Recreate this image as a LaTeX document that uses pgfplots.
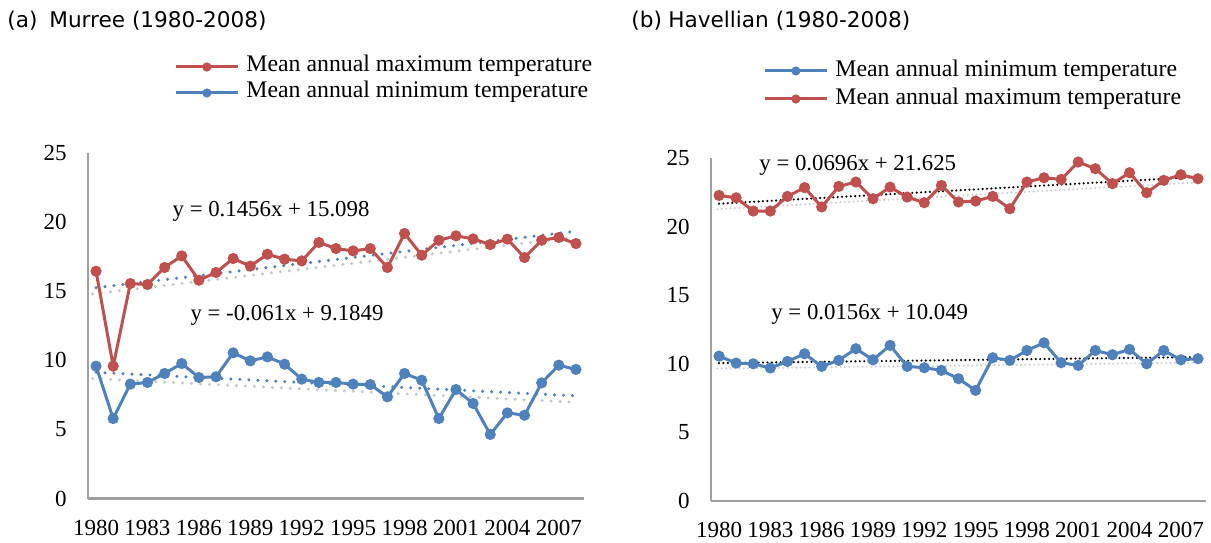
\documentclass[border=0pt]{standalone}
\usepackage{fontspec}
\setmainfont{Liberation Serif}
\newfontfamily\titlefont{DejaVu Sans}
\usepackage{pgfplots}
\pgfplotsset{compat=1.18}
\definecolor{cred}{RGB}{192,80,77}
\definecolor{cblue}{RGB}{79,129,189}
\definecolor{caxis}{RGB}{160,160,160}
\definecolor{cshadow}{RGB}{200,200,200}
\definecolor{cshadowb}{RGB}{205,210,218}

\pgfplotsset{
 tempaxis/.style={
  scale only axis, xmin=1979.53, xmax=2008.47, ymin=0, ymax=25,
  axis x line*=bottom, axis y line*=left,
  axis line style={caxis, line width=1.1pt, -},
  xtick={1980,1983,...,2007}, ytick={0,5,...,25},
  major tick length=0pt,
  /pgf/number format/1000 sep={},
  /pgf/number format/assume math mode=true,
  tick label style={font=\fontsize{11.5}{13}\selectfont, inner sep=0pt},
  xticklabel style={anchor=center, yshift=-14.5pt},
  yticklabel style={anchor=east, xshift=-10.5pt},
  clip=false,
  legend image code/.code={\draw[mark repeat=2, mark phase=2, mark size=1.5pt, #1] plot coordinates {(0pt,0pt) (15.5pt,0pt) (31pt,0pt)}; \path (34.5pt,0pt);},
  legend cell align=left,
 },
 dataline/.style={line width=1.5pt, mark=*, mark size=2pt, mark options={solid}},
 ltrend/.style={forget plot, line width=1.7pt, line cap=round, dash pattern=on 0pt off 4.5pt},
 rtrend/.style={forget plot, line width=1.2pt, line cap=round, dash pattern=on 0pt off 2.2pt},
}

\begin{document}
\begin{tikzpicture}
\path[use as bounding box] (0,0) rectangle (605.5pt,271pt);

\node[anchor=west, inner sep=0pt, font=\titlefont\fontsize{10.8}{12}\selectfont] at (3.5pt,260.5pt) {(a)};
\node[anchor=west, inner sep=0pt, font=\titlefont\fontsize{10.8}{12}\selectfont] at (24.5pt,260.5pt) {Murree (1980-2008)};
\node[anchor=west, inner sep=0pt, font=\titlefont\fontsize{10.8}{12}\selectfont] at (315.5pt,260.5pt) {(b)};
\node[anchor=west, inner sep=0pt, font=\titlefont\fontsize{10.8}{12}\selectfont] at (334pt,260.5pt) {Havellian (1980-2008)};

% ---------------- (a) Murree ----------------
\begin{axis}[tempaxis, at={(44pt,21.75pt)}, anchor=south west, width=248pt, height=172.9pt,
  legend style={at={(axis description cs:0.1734,1.2103)}, anchor=west, draw=none, fill=none, inner sep=0pt,
    font=\fontsize{11.9}{13}\selectfont, row sep=0pt, nodes={inner sep=0pt, text height=9pt, text depth=4pt}}]
\addplot[ltrend, cshadow] coordinates {(1979.8,14.79) (2007.8,18.87)};
\addplot[ltrend, cshadow] coordinates {(1979.8,8.67) (2007.8,6.97)};
\addplot[ltrend, cblue] coordinates {(1980,15.24) (2008,19.32)};
\addplot[ltrend, cblue] coordinates {(1980,9.12) (2008,7.42)};
\addplot[dataline, cred] coordinates {
(1980,16.43) (1981,9.57) (1982,15.54) (1983,15.47) (1984,16.70) (1985,17.54) (1986,15.78) (1987,16.34)
(1988,17.35) (1989,16.80) (1990,17.66) (1991,17.30) (1992,17.18) (1993,18.51) (1994,18.07) (1995,17.90)
(1996,18.07) (1997,16.70) (1998,19.16) (1999,17.59) (2000,18.67) (2001,18.99) (2002,18.77) (2003,18.36)
(2004,18.75) (2005,17.42) (2006,18.67) (2007,18.87) (2008,18.43)};
\addlegendentry{Mean annual maximum temperature}
\addplot[dataline, cblue] coordinates {
(1980,9.57) (1981,5.78) (1982,8.27) (1983,8.39) (1984,9.04) (1985,9.76) (1986,8.75) (1987,8.80)
(1988,10.53) (1989,9.95) (1990,10.24) (1991,9.71) (1992,8.63) (1993,8.39) (1994,8.39) (1995,8.27)
(1996,8.24) (1997,7.35) (1998,9.04) (1999,8.55) (2000,5.78) (2001,7.88) (2002,6.87) (2003,4.63)
(2004,6.19) (2005,6.02) (2006,8.36) (2007,9.64) (2008,9.33)};
\addlegendentry{Mean annual minimum temperature}
\node[font=\fontsize{11.4}{13}\selectfont, inner sep=0pt] at (axis cs:1990.21,20.73) {y = 0.1456x + 15.098};
\node[font=\fontsize{11.4}{13}\selectfont, inner sep=0pt] at (axis cs:1991.14,13.27) {y = -0.061x + 9.1849};
\end{axis}

% ---------------- (b) Havellian ----------------
\begin{axis}[tempaxis, at={(355.5pt,20.5pt)}, anchor=south west, width=247.5pt, height=171.35pt,
  legend style={at={(axis description cs:0.105,1.2139)}, anchor=west, draw=none, fill=none, inner sep=0pt,
    font=\fontsize{11.9}{13}\selectfont, row sep=0pt, nodes={inner sep=0pt, text height=10pt, text depth=4pt}}]
\addplot[rtrend, cshadowb] coordinates {(1979.9,21.29) (2007.9,23.24)};
\addplot[rtrend, cshadowb] coordinates {(1979.9,9.66) (2007.9,10.10)};
\addplot[rtrend, black] coordinates {(1980,21.69) (2008,23.64)};
\addplot[rtrend, black] coordinates {(1980,10.06) (2008,10.50)};
\addplot[dataline, cblue] coordinates {
(1980,10.57) (1981,10.06) (1982,10.01) (1983,9.70) (1984,10.18) (1985,10.74) (1986,9.82) (1987,10.26)
(1988,11.11) (1989,10.30) (1990,11.35) (1991,9.82) (1992,9.72) (1993,9.53) (1994,8.92) (1995,8.07)
(1996,10.45) (1997,10.26) (1998,10.98) (1999,11.54) (2000,10.09) (2001,9.89) (2002,10.98) (2003,10.67)
(2004,11.06) (2005,10.01) (2006,10.98) (2007,10.30) (2008,10.38)};
\addlegendentry{Mean annual minimum temperature}
\addplot[dataline, cred] coordinates {
(1980,22.29) (1981,22.12) (1982,21.15) (1983,21.15) (1984,22.22) (1985,22.86) (1986,21.45) (1987,22.95)
(1988,23.27) (1989,22.05) (1990,22.90) (1991,22.17) (1992,21.76) (1993,23.02) (1994,21.81) (1995,21.88)
(1996,22.22) (1997,21.32) (1998,23.27) (1999,23.58) (2000,23.46) (2001,24.73) (2002,24.24) (2003,23.15)
(2004,23.95) (2005,22.49) (2006,23.39) (2007,23.80) (2008,23.51)};
\addlegendentry{Mean annual maximum temperature}
\node[font=\fontsize{11.4}{13}\selectfont, inner sep=0pt] at (axis cs:1988.11,24.51) {y = 0.0696x + 21.625};
\node[font=\fontsize{11.4}{13}\selectfont, inner sep=0pt] at (axis cs:1988.81,13.64) {y = 0.0156x + 10.049};
\end{axis}
\end{tikzpicture}
\end{document}
